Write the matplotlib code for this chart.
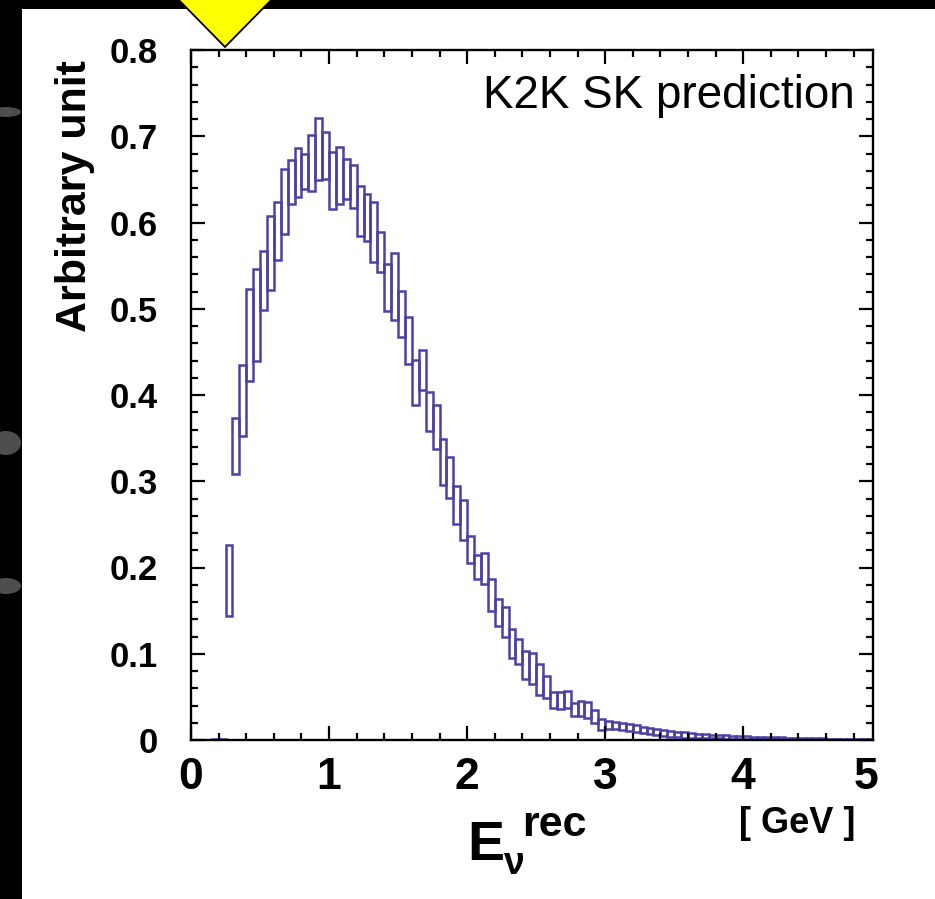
import numpy as np
import matplotlib
matplotlib.use('Agg')
import matplotlib.pyplot as plt
from matplotlib.patches import Polygon, Rectangle, Ellipse
from matplotlib.ticker import MultipleLocator, FixedLocator
from matplotlib.transforms import ScaledTranslation

# ---------------- data ----------------
first_bin_edge = 0.10      # GeV
bin_width = 0.05           # GeV
box_lower = [0.0, 0.0, 0.0,
             0.144, 0.308, 0.352, 0.416, 0.439, 0.499, 0.522, 0.557, 0.587, 0.621,
             0.629, 0.639, 0.637, 0.649, 0.651, 0.616, 0.622, 0.627, 0.617, 0.584,
             0.578, 0.554, 0.543, 0.497, 0.487, 0.467, 0.436, 0.388, 0.406, 0.358,
             0.337, 0.296, 0.281, 0.250, 0.232, 0.205, 0.187, 0.181, 0.149, 0.132,
             0.119, 0.0955, 0.0877, 0.0703, 0.0645, 0.052, 0.049, 0.0375, 0.036, 0.0367,
             0.0278, 0.0278, 0.026, 0.0193, 0.0116, 0.0124, 0.0124, 0.0116, 0.0108, 0.0089,
             0.0077, 0.0070, 0.0058, 0.0050, 0.0039, 0.0035, 0.0027, 0.0027, 0.0023, 0.0023,
             0.0019, 0.0019, 0.0016, 0.0015, 0.0014, 0.0013, 0.0012, 0.0011, 0.0010, 0.0009,
             0.0008, 0.0007, 0.0006, 0.0006, 0.0005, 0.0005, 0.0004, 0.0004, 0.0003, 0.0003,
             0.0003, 0.0002, 0.0002, 0.0002]
box_upper = [0.0004, 0.0006, 0.0010,
             0.226, 0.373, 0.435, 0.523, 0.546, 0.567, 0.607, 0.624, 0.662, 0.672,
             0.686, 0.679, 0.702, 0.721, 0.705, 0.682, 0.688, 0.674, 0.667, 0.642,
             0.633, 0.624, 0.589, 0.552, 0.565, 0.521, 0.490, 0.441, 0.452, 0.404,
             0.388, 0.349, 0.328, 0.294, 0.278, 0.237, 0.2145, 0.217, 0.187, 0.164,
             0.154, 0.1287, 0.1167, 0.1036, 0.1013, 0.0877, 0.0742, 0.0553, 0.056, 0.0572,
             0.0433, 0.0452, 0.0444, 0.0345, 0.0243, 0.0220, 0.0213, 0.0201, 0.0186, 0.0170,
             0.0155, 0.0143, 0.0128, 0.0116, 0.0108, 0.0097, 0.0089, 0.0081, 0.0073, 0.0066,
             0.0062, 0.0058, 0.0054, 0.0050, 0.0046, 0.0043, 0.0040, 0.0037, 0.0034, 0.0032,
             0.0030, 0.0028, 0.0026, 0.0024, 0.0022, 0.0020, 0.0019, 0.0017, 0.0016, 0.0015,
             0.0014, 0.0013, 0.0012, 0.0011]
x_tick_labels = ['0', '1', '2', '3', '4', '5']
y_ticks = [0, 0.1, 0.2, 0.3, 0.4, 0.5, 0.6, 0.7, 0.8]
y_tick_labels = ['0', '0.1', '0.2', '0.3', '0.4', '0.5', '0.6', '0.7', '0.8']

lower = np.array(box_lower)
upper = np.array(box_upper)
left_edges = np.round(first_bin_edge + bin_width * np.arange(len(lower)), 3)

# ---------------- figure ----------------
W, H = 935, 899
FONT = 'Liberation Sans'
plt.rcParams['font.family'] = [FONT, 'DejaVu Sans']

fig = plt.figure(figsize=(W / 100, H / 100), dpi=100, facecolor='black')

# white slide panel
fig.patches.append(Rectangle((22 / W, 0), 1 - 22 / W, 1 - 9 / H, transform=fig.transFigure,
                             facecolor='white', edgecolor='none', zorder=-2))
# grey smudges on the black strip
for (cx, cy, ew, eh) in [(6, 112, 30, 10), (6, 443, 30, 24), (6, 586, 30, 16)]:
    fig.patches.append(Ellipse((cx / W, 1 - cy / H), ew / W, eh / H, transform=fig.transFigure,
                               facecolor='#4e4e4e', edgecolor='none', zorder=-1))

ax = fig.add_axes([191 / W, (H - 740) / H, (873 - 191) / W, 690 / H])
ax.set_facecolor('white')

box_color = '#4d41a3'
ax.bar(left_edges, upper - lower, bottom=lower, width=bin_width, align='edge',
       fill=False, edgecolor=box_color, linewidth=1.8)

ax.set_xlim(0, 4.94)
ax.set_ylim(0, 0.8)

ax.xaxis.set_major_locator(FixedLocator([0, 1, 2, 3, 4]))
ax.set_xticklabels(x_tick_labels[:5])
ax.xaxis.set_minor_locator(MultipleLocator(0.2))
ax.yaxis.set_major_locator(FixedLocator(y_ticks))
ax.set_yticklabels(y_tick_labels)
ax.yaxis.set_minor_locator(MultipleLocator(0.02))

for s in ax.spines.values():
    s.set_linewidth(1.7)
ax.tick_params(which='both', direction='in', top=True, right=True, width=1.6, color='black')
ax.tick_params(which='major', length=10)
ax.tick_params(which='minor', length=5)
XPAD = 12
ax.tick_params(axis='x', which='major', pad=XPAD)
ax.tick_params(axis='y', which='major', pad=24)
for lab in ax.get_xticklabels():
    lab.set_fontsize(32); lab.set_fontweight('bold'); lab.set_family(FONT)
for lab in ax.get_yticklabels():
    lab.set_fontsize(25); lab.set_fontweight('bold'); lab.set_family(FONT)

# "5" label at the right end of the axis (same offset as the tick labels)
trans5 = ax.get_xaxis_transform() + ScaledTranslation(0, -XPAD / 72, fig.dpi_scale_trans)
ax.text(4.89, 0, x_tick_labels[5], transform=trans5, fontsize=32,
        fontweight='bold', family=FONT, ha='center', va='top', clip_on=False)

# texts
fig.text(855 / W, 1 - 108 / H, 'K2K SK prediction', ha='right', va='baseline',
         fontsize=33, family=FONT)
fig.text(75 / W, 1 - 196 / H, 'Arbitrary unit', rotation=90, ha='center', va='center',
         fontsize=31, fontweight='bold', family=FONT)
fig.text(467 / W, 1 - 860 / H, 'E', ha='left', va='baseline', fontsize=40,
         fontweight='bold', family=FONT)
fig.text(503 / W, 1 - 874 / H, 'ν', ha='left', va='baseline', fontsize=27,
         fontweight='bold', family=FONT)
fig.text(522 / W, 1 - 836 / H, 'rec', ha='left', va='baseline', fontsize=31,
         fontweight='bold', family=FONT)
fig.text(797 / W, 1 - 833 / H, '[ GeV ]', ha='center', va='baseline', fontsize=26,
         fontweight='bold', family=FONT)

# yellow pointer triangle
fig.patches.append(Polygon([(170 / W, 1.01), (280 / W, 1.01), (225 / W, 1 - 47 / H)],
                           closed=True, transform=fig.transFigure, facecolor='#ffff00',
                           edgecolor='black', linewidth=1.3, zorder=10, clip_on=False))

fig.savefig('out.png', dpi=100, facecolor=fig.get_facecolor())
